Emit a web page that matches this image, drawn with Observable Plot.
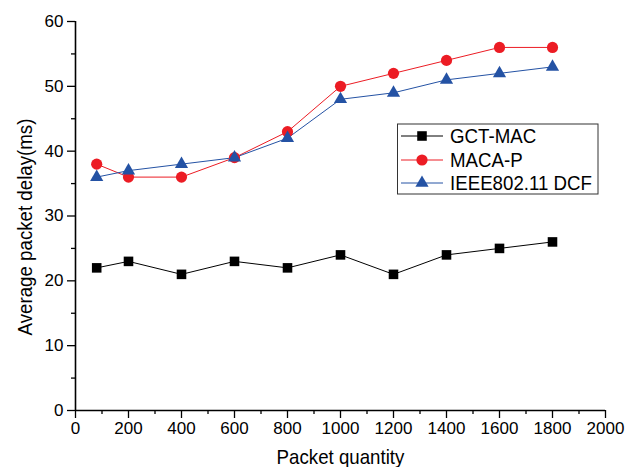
<!DOCTYPE html>
<html>
<head>
<meta charset="utf-8">
<script src="https://cdn.jsdelivr.net/npm/d3@7"></script>
<script src="https://cdn.jsdelivr.net/npm/@observablehq/plot@0.6"></script>
<style>
  html, body { margin: 0; padding: 0; background: #fff; }
  #chart { width: 632px; height: 467px; }
</style>
</head>
<body>
<div id="chart"></div>
<script>
const packets = [80, 200, 400, 600, 800, 1000, 1200, 1400, 1600, 1800];
const gctMac = [22, 23, 21, 23, 22, 24, 21, 24, 25, 26];
const macaP = [38, 36, 36, 39, 43, 50, 52, 54, 56, 56];
const ieeeDcf = [36, 37, 38, 39, 42, 48, 49, 51, 52, 53];
const seriesNames = ["GCT-MAC", "MACA-P", "IEEE802.11 DCF"];
const xTicks = [0, 200, 400, 600, 800, 1000, 1200, 1400, 1600, 1800, 2000];
const xMinor = [100, 300, 500, 700, 900, 1100, 1300, 1500, 1700, 1900];
const yTicks = [0, 10, 20, 30, 40, 50, 60];
const yMinor = [5, 15, 25, 35, 45, 55];

const colors = ["#000000", "#ec1c24", "#2452a4"];
const symbols = ["square", "circle", "triangle"];
const radii = [5.4, 5.6, 4.9];
const values = [gctMac, macaP, ieeeDcf];

const data = [];
seriesNames.forEach((s, i) => packets.forEach((p, j) => data.push({series: s, x: p, y: values[i][j]})));

const font = "'Liberation Sans', Arial, Helvetica, sans-serif";
const fmt = d => String(d);

const marks = [
  Plot.axisY({ticks: yMinor, tickSize: 4, text: null, label: null, strokeWidth: 1.3}),
  Plot.axisY({ticks: yTicks, tickSize: 8, tickPadding: 4, tickFormat: fmt, fontSize: 17, label: null, strokeWidth: 1.3}),
  Plot.axisX({ticks: xMinor, tickSize: 4, text: null, label: null, strokeWidth: 1.3}),
  Plot.axisX({ticks: xTicks, tickSize: 8, tickPadding: 3, tickFormat: fmt, fontSize: 17, label: null, strokeWidth: 1.3}),
  Plot.ruleX([0], {stroke: "#000", strokeWidth: 1.6}),
  Plot.ruleY([0], {stroke: "#000", strokeWidth: 1.6}),
  Plot.text(["Average packet delay(ms)"], {frameAnchor: "left", textAnchor: "middle", lineAnchor: "middle", rotate: -90, dx: -50, dy: 11, fontSize: 21, fill: "#000", className: "squeeze"}),
  Plot.text(["Packet quantity"], {frameAnchor: "bottom", textAnchor: "middle", lineAnchor: "middle", dy: 47, fontSize: 21, fill: "#000", className: "squeeze"})
];
seriesNames.forEach((s, i) => {
  const d = data.filter(r => r.series === s);
  marks.push(Plot.line(d, {x: "x", y: "y", stroke: colors[i], strokeWidth: 1}));
});
seriesNames.forEach((s, i) => {
  const d = data.filter(r => r.series === s);
  marks.push(Plot.dot(d, {x: "x", y: "y", symbol: () => symbols[i], r: radii[i], fill: colors[i], stroke: "none"}));
});

const chart = Plot.plot({
  width: 632,
  height: 467,
  marginLeft: 75,
  marginRight: 27,
  marginTop: 21,
  marginBottom: 57,
  style: {fontFamily: font, background: "#fff", color: "#000"},
  x: {domain: [0, 2000]},
  y: {domain: [0, 60]},
  marks
});
document.getElementById("chart").appendChild(chart);

// Legend box
const svg = d3.select(chart);
const lg = svg.append("g").attr("class", "legend").attr("font-family", font).attr("font-size", 21).attr("text-anchor", "start");
lg.append("rect").attr("x", 397.5).attr("y", 124).attr("width", 200.5).attr("height", 70)
  .attr("fill", "#fff").attr("stroke", "#333").attr("stroke-width", 1);
const rowY = [136, 160, 183];
const symMap = {square: d3.symbolSquare, circle: d3.symbolCircle, triangle: d3.symbolTriangle};
seriesNames.forEach((s, i) => {
  const g = lg.append("g").attr("transform", `translate(0,${rowY[i]})`);
  g.append("line").attr("x1", 401).attr("x2", 443).attr("y1", 0).attr("y2", 0)
    .attr("stroke", colors[i]).attr("stroke-width", 1);
  g.append("path").attr("transform", "translate(422,0)")
    .attr("d", d3.symbol(symMap[symbols[i]], Math.PI * radii[i] * radii[i])())
    .attr("fill", colors[i]);
  g.append("text").attr("x", 450).attr("y", 0).attr("dy", "0.35em").attr("text-anchor", "start").attr("fill", "#000").text(s);
});

// The reference text is slightly condensed: squeeze titles and legend labels
svg.selectAll(".squeeze text, .legend text").each(function() {
  const len = this.getComputedTextLength();
  if (len > 0) {
    this.setAttribute("textLength", (len * 0.89).toFixed(1));
    this.setAttribute("lengthAdjust", "spacingAndGlyphs");
  }
});
</script>
</body>
</html>
